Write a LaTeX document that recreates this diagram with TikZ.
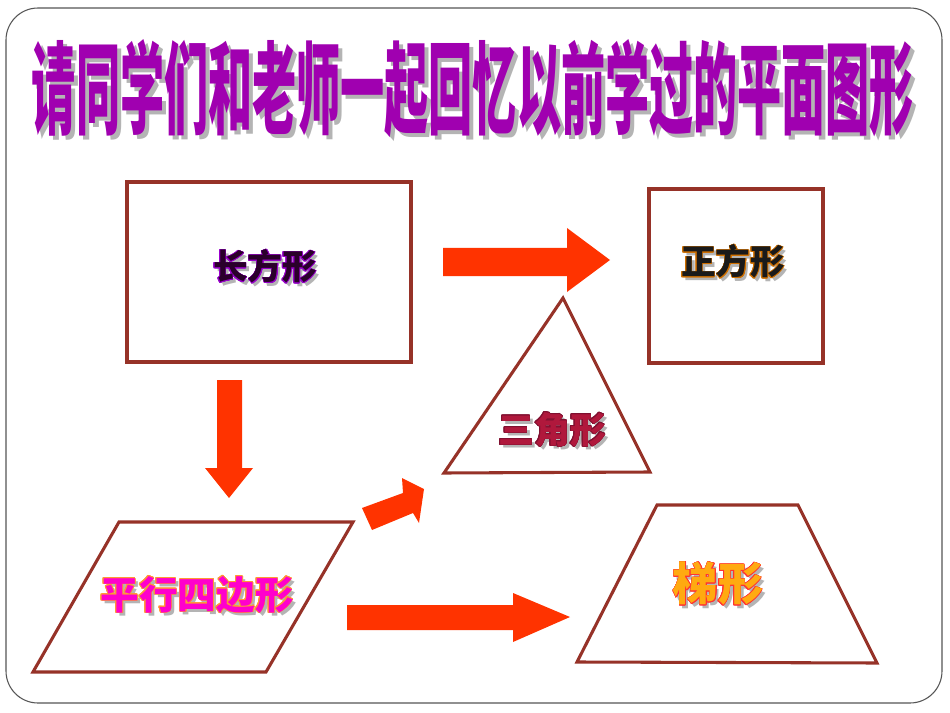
\documentclass[tikz,border=0pt]{standalone}
\usepackage{fontspec}
\newfontfamily\cjk{Noto Sans CJK SC}
\usepackage[copies]{contour}
\definecolor{framegray}{HTML}{555555}
\definecolor{titlepurple}{HTML}{A000B0}
\definecolor{shadowgray}{HTML}{B4B4B4}
\definecolor{shapebrown}{HTML}{963228}
\definecolor{arrowred}{HTML}{FF3300}
\definecolor{rectink}{HTML}{2A002A}
\definecolor{rectedge}{HTML}{9900CC}
\definecolor{sqink}{HTML}{1A1A1A}
\definecolor{sqedge}{HTML}{D07000}
\definecolor{triink}{HTML}{B0183C}
\definecolor{triedge}{HTML}{801030}
\definecolor{parink}{HTML}{FF00CC}
\definecolor{paredge}{HTML}{FF9933}
\definecolor{trapink}{HTML}{FFAA10}
\definecolor{trapedge}{HTML}{FF3333}
\tikzset{
  shapeline/.style={draw=shapebrown, line width=2.3pt, line join=miter},
  blockarrow/.style={fill=arrowred, draw=none},
  lbl/.style={inner sep=0pt, font=\cjk\bfseries},
  shadowlbl/.style={inner sep=0pt, font=\cjk\bfseries, text=shadowgray},
}
\contourlength{0.5pt}
\begin{document}
\begin{tikzpicture}[x=0.75pt,y=-0.75pt]
\useasboundingbox (0,0) rectangle (950,713);
\fill[white] (0,0) rectangle (950,713);
% frame
\draw[framegray, line width=0.8pt, rounded corners=24pt] (6,8) rectangle (942,703);
% title
\node[shadowlbl] (titleshadow) at (477,93) {\scalebox{0.447}[1.02]{\fontsize{74pt}{74pt}\selectfont 请同学们和老师一起回忆以前学过的平面图形}};
\node[lbl, text=titlepurple] (title) at (473,89) {\scalebox{0.447}[1.02]{\fontsize{74pt}{74pt}\selectfont 请同学们和老师一起回忆以前学过的平面图形}};
% rectangle
\draw[shapeline] (127,182) rectangle (411,362);
\node[shadowlbl, font=\cjk\bfseries\fontsize{26pt}{26pt}\selectfont] (rectshadow) at (268,270) {长方形};
\node[lbl, text=rectink, font=\cjk\bfseries\fontsize{26pt}{26pt}\selectfont] (rectlabel) at (265,267) {\contour{rectedge}{长方形}};
% square
\draw[shapeline] (649,189) rectangle (823,363);
\node[shadowlbl, font=\cjk\bfseries\fontsize{26pt}{26pt}\selectfont] (sqshadow) at (736,265) {正方形};
\node[lbl, text=sqink, font=\cjk\bfseries\fontsize{26pt}{26pt}\selectfont] (sqlabel) at (733,262) {\contour{sqedge}{正方形}};
% triangle
\coordinate (ta) at (563,298);
\coordinate (tb) at (444,473);
\coordinate (tc) at (650,472);
\draw[shapeline] (ta) -- (tb) -- (tc) -- cycle;
\node[shadowlbl, font=\cjk\bfseries\fontsize{27pt}{27pt}\selectfont] (trishadow) at (555,433) {三角形};
\node[lbl, text=triink, font=\cjk\bfseries\fontsize{27pt}{27pt}\selectfont] (trilabel) at (552,430) {\contour{triedge}{三角形}};
% parallelogram
\coordinate (pa) at (119,522);
\coordinate (pb) at (353,522);
\coordinate (pc) at (266,672);
\coordinate (pd) at (33,672);
\draw[shapeline] (pa) -- (pb) -- (pc) -- (pd) -- cycle;
\node[shadowlbl, font=\cjk\bfseries\fontsize{29pt}{29pt}\selectfont] (parshadow) at (200,598) {平行四边形};
\node[lbl, text=parink, font=\cjk\bfseries\fontsize{29pt}{29pt}\selectfont] (parlabel) at (197,595) {\contour{paredge}{平行四边形}};
% trapezoid
\coordinate (za) at (657,505);
\coordinate (zb) at (798,505);
\coordinate (zc) at (877,663);
\coordinate (zd) at (577,662);
\draw[shapeline] (za) -- (zb) -- (zc) -- (zd) -- cycle;
\node[shadowlbl, font=\cjk\bfseries\fontsize{34pt}{34pt}\selectfont] (trapshadow) at (721,587) {梯形};
\node[lbl, text=trapink, font=\cjk\bfseries\fontsize{34pt}{34pt}\selectfont] (traplabel) at (718,584) {\contour{trapedge}{梯形}};
% arrows
\fill[blockarrow] (443,248) -- (567,248) -- (567,228) -- (610,260) -- (567,292) -- (567,276) -- (443,276) -- cycle;
\fill[blockarrow] (217,380) -- (242,380) -- (242,468) -- (253,468) -- (229,498) -- (205,468) -- (217,468) -- cycle;
\fill[blockarrow] (347,605) -- (513,605) -- (513,593) -- (570,617) -- (513,642) -- (513,630) -- (347,630) -- cycle;
\fill[blockarrow] (362,508) -- (403,493) -- (402,478) -- (424,489) -- (419,523) -- (413,513) -- (372,530) -- cycle;
\end{tikzpicture}
\end{document}
